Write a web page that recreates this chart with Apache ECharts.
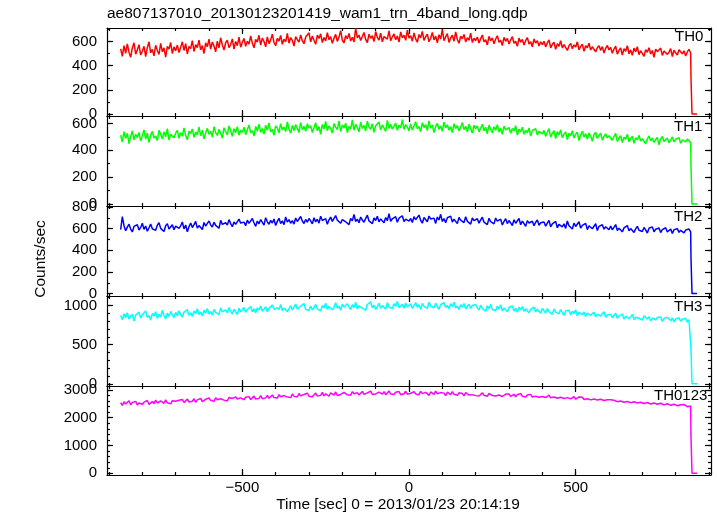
<!DOCTYPE html>
<html><head><meta charset="utf-8">
<script src="https://cdn.jsdelivr.net/npm/echarts@6/dist/echarts.min.js"></script>
<style>html,body{margin:0;padding:0;background:#fff}#c{width:717px;height:516px}</style>
</head><body><div id="c"></div>
<script>
const titleText = "ae807137010_20130123201419_wam1_trn_4band_long.qdp";
const xTitle = "Time [sec] 0 = 2013/01/23 20:14:19";
const yTitle = "Counts/sec";
const panelNames = ["TH0", "TH1", "TH2", "TH3", "TH0123"];

// time bins: first bin centre and bin width (sec)
const binStart = -865, binWidth = 5;

const th0 = [
540,478,566,503,581,512,469,547,590,495,531,574,488,520,561,476,549,598,507,535,482,569,526,493,585,515,548,471,560,537,592,501,556,523,
571,509,552,598,526,583,497,560,541,607,518,575,549,612,532,566,501,589,557,620,538,596,563,515,604,547,631,572,529,590,612,549,575,622,538,601,566,637,553,594,
625,561,603,579,646,588,548,617,596,652,571,629,600,556,638,583,614,661,592,565,627,604,650,577,619,598,668,586,633,610,562,641,615,595,655,607,582,637,621,672,
598,646,611,577,653,625,664,592,633,606,674,615,640,585,628,659,601,637,690,612,588,649,622,667,604,636,596,711,630,654,609,642,675,618,591,661,627,648,600,683,634,612,669,598,641,657,620,688,606,639,663,615,646,595,679,631,652,610,695,628,
648,603,671,622,594,658,631,684,609,640,662,598,627,676,614,645,589,656,621,701,607,638,665,593,630,652,603,680,617,586,644,623,659,597,632,611,670,592,628,606,
637,588,624,654,597,615,572,643,606,630,581,621,648,594,611,567,635,602,626,579,614,641,586,603,560,628,595,617,571,608,633,580,599,557,621,588,606,563,597,574,
602,556,589,613,548,577,594,535,583,561,607,547,574,590,526,566,585,541,572,554,598,532,560,579,519,565,548,586,530,557,573,514,549,566,527,558,505,544,568,531,
552,503,538,561,496,527,548,488,541,519,565,499,531,486,545,515,557,492,524,540,478,533,511,549,497,526,470,538,516,503,546,485,521,534,494,512,541,476,529,507,489,532,515,498,523,481,514,536,505
];
const th1 = [
512,461,538,487,526,449,503,545,478,519,495,533,468,508,552,483,527,459,514,541,490,506,472,548,521,485,537,499,561,476,518,532,493,527,
548,489,531,504,567,512,478,543,525,559,496,537,514,572,507,549,485,528,563,519,541,498,576,532,510,556,527,491,568,539,515,582,546,503,560,531,575,512,549,534,
571,516,552,589,529,546,505,578,541,595,533,562,520,587,548,603,537,556,512,581,566,529,598,551,574,539,612,558,527,585,547,591,563,532,606,554,579,541,598,566,
583,532,567,604,545,576,519,592,558,614,547,581,563,527,598,572,553,619,540,588,566,601,531,577,560,624,549,593,571,536,609,562,585,544,617,573,556,597,534,582,568,611,551,589,575,540,622,563,594,557,579,603,548,586,569,628,555,591,574,545,
596,551,583,612,560,577,538,605,569,591,547,618,565,588,532,574,600,556,581,542,609,567,590,549,576,531,598,561,584,544,572,606,553,579,538,595,562,527,586,559,
581,537,566,594,545,572,523,587,556,530,575,548,591,535,563,518,580,551,540,569,526,562,544,583,512,557,538,571,519,549,531,566,505,547,536,560,514,541,553,522,
548,503,534,561,497,526,545,487,539,515,552,494,520,537,479,528,509,546,491,518,535,472,513,541,498,524,483,529,506,466,517,534,488,510,527,475,503,522,492,508,
513,474,502,525,466,491,509,458,497,481,519,463,488,505,452,494,477,511,469,486,500,448,483,507,471,492,459,478,496,441,485,503,466,479,491,455,476,499,463,482,470,494,451,477,488,462,483,473,458
];
const th2 = [
592,712,628,581,615,642,597,570,621,606,637,588,612,650,594,625,577,609,643,600,618,585,633,655,603,619,574,628,647,598,613,636,590,624,
641,603,627,662,598,634,572,619,653,611,638,667,606,629,645,593,657,624,610,672,636,615,660,631,648,604,677,640,622,655,633,684,647,618,663,641,626,689,652,637,
661,628,679,650,637,694,655,622,671,646,685,659,633,702,664,641,677,652,690,629,668,696,647,673,638,708,661,684,650,675,643,699,667,654,713,671,648,686,660,694,
672,645,701,663,688,651,716,675,659,693,641,682,707,668,654,721,679,693,650,685,702,664,677,638,696,673,731,667,689,655,708,681,660,694,725,672,686,647,699,676,715,663,690,681,656,703,674,740,668,692,677,711,659,697,684,720,666,688,702,671,
695,658,712,683,669,726,677,651,704,688,664,717,690,672,698,649,708,681,733,667,693,655,701,684,716,662,689,673,647,705,679,694,657,710,668,686,643,699,675,661,
692,651,681,706,660,674,638,697,666,683,645,699,671,653,688,634,667,692,648,676,659,629,683,651,664,694,637,670,648,622,675,653,641,669,628,660,681,632,655,645,
662,624,651,677,618,644,632,668,609,640,655,617,646,603,671,628,639,598,652,621,636,664,605,631,617,649,592,627,641,600,615,646,583,622,608,637,596,618,629,590,
624,591,612,639,584,605,620,571,608,597,629,580,601,615,566,598,622,586,603,574,611,589,560,604,593,617,572,595,583,606,564,592,578,609,569,587,598,557,590,579,601,566,585,594,561,588,575,597,570
];
const th3 = [
872,818,894,843,907,826,861,889,801,876,852,915,838,881,864,929,847,873,812,898,866,921,835,887,855,938,871,829,903,858,924,880,846,911,
869,932,887,851,915,898,946,872,906,861,928,893,957,884,913,866,939,901,962,889,920,876,948,911,935,882,969,917,898,943,906,972,925,891,951,930,884,963,918,947,
975,912,948,931,986,920,957,902,969,941,993,926,955,983,917,962,939,1004,951,928,972,946,1011,935,966,987,921,958,996,943,977,1018,952,930,989,964,1025,948,971,938,
992,941,973,1012,956,981,929,998,967,1027,950,986,1006,944,975,1033,962,991,937,1015,979,958,1021,985,947,1009,972,1041,956,994,1018,966,983,939,1012,990,1047,969,1003,951,985,1028,964,997,1011,953,1036,978,1002,960,1022,987,1052,970,995,1014,963,1031,982,1006,
1019,964,998,1037,975,1010,949,1026,987,1004,961,1043,992,1015,970,1029,983,951,1012,996,1034,973,1001,957,1021,988,1040,966,993,945,1008,979,1025,954,990,1016,962,999,975,1011,
987,941,1003,962,979,926,995,958,1014,947,971,936,990,955,1007,932,966,981,919,974,950,993,928,962,912,977,943,986,924,957,968,907,949,934,979,916,952,937,901,960,
944,902,961,919,937,886,953,915,928,893,948,905,872,931,912,939,880,923,896,945,868,910,932,881,917,859,903,926,874,898,914,856,889,907,865,893,921,848,882,899,
887,843,874,901,836,866,852,889,825,862,878,831,857,884,819,849,871,837,858,812,866,843,826,855,801,839,862,817,845,829,851,796,834,812,847,823,808,839,789,828,815,842,797,823,809,835,786,818,804
];
const th0123 = [
2538,2441,2572,2490,2525,2609,2467,2548,2503,2586,2455,2531,2597,2486,2559,2512,2620,2474,2543,2580,2507,2634,2529,2488,2601,2556,2519,2645,2537,2573,2496,2612,2558,2590,
2534,2627,2581,2652,2548,2603,2669,2566,2619,2590,2683,2557,2641,2608,2695,2578,2633,2662,2596,2710,2624,2651,2589,2719,2643,2608,2681,2737,2632,2667,2604,2728,2659,2693,2625,2749,2671,2634,2712,2688,
2647,2735,2689,2758,2652,2714,2776,2671,2730,2695,2792,2683,2748,2713,2805,2697,2762,2819,2725,2771,2706,2831,2754,2729,2796,2843,2741,2788,2722,2852,2767,2806,2748,2871,2783,2759,2834,2795,2880,2771,
2836,2752,2818,2889,2776,2847,2803,2908,2785,2861,2829,2772,2897,2844,2815,2926,2798,2869,2837,2781,2912,2851,2823,2884,2806,2937,2859,2831,2902,2818,2877,2944,2842,2813,2891,2865,2958,2836,2899,2854,2808,2921,2873,2847,2935,2826,2886,2963,2851,2904,2838,2917,2869,2942,2827,2893,2862,2951,2845,2908,
2879,2813,2931,2856,2894,2827,2948,2865,2838,2912,2851,2804,2925,2872,2840,2957,2861,2819,2903,2846,2884,2796,2916,2858,2831,2937,2842,2873,2808,2895,2834,2869,2787,2906,2848,2815,2882,2829,2861,2794,
2857,2782,2838,2891,2806,2849,2771,2874,2823,2796,2862,2779,2835,2815,2881,2762,2826,2849,2788,2853,2767,2818,2842,2755,2831,2794,2866,2771,2805,2748,2820,2786,2839,2742,2802,2777,2826,2733,2791,2764,
2795,2726,2771,2811,2714,2758,2742,2793,2701,2767,2735,2784,2689,2749,2722,2776,2680,2731,2756,2664,2712,2747,2693,2735,2653,2718,2681,2729,2641,2702,2672,2716,2633,2688,2661,2705,2618,2674,2647,2690,
2643,2591,2628,2662,2576,2614,2599,2641,2558,2607,2584,2625,2541,2598,2571,2613,2529,2584,2553,2596,2512,2569,2547,2581,2494,2556,2528,2565,2483,2540,2518,2549,2461,2527,2502,2538,2445,2509,2486,2521,2432,2493,2468,2412,2479,2447,2395,2458,2421
];

// end of observation: partial bin then zero
const dropTimes = [846, 849, 864];
const dropTH0 = [300, 0, 0];
const dropTH1 = [280, 0, 0];
const dropTH2 = [330, 0, 0];
const dropTH3 = [430, 0, 0];
const dropTH0123 = [1320, 0, 0];

const xMajorTicks = [-500, 0, 500];
const xMinorTicks = [-900,-800,-700,-600,-500,-400,-300,-200,-100,0,100,200,300,400,500,600,700,800,900];
const yMajor = [[0,200,400,600],[0,200,400,600],[0,200,400,600,800],[0,500,1000],[0,1000,2000,3000]];
const yMinor = [
  [100,200,300,400,500,600,700],
  [100,200,300,400,500,600],
  [100,200,300,400,500,600,700,800],
  [100,200,300,400,500,600,700,800,900,1000,1100],
  [200,400,600,800,1000,1200,1400,1600,1800,2000,2200,2400,2600,2800,3000]
];
const yRange = [[-16,712],[-15,655],[-22,810],[-28,1120],[-60,3140]];
const xRange = [-906, 906];

const seriesData = [th0, th1, th2, th3, th0123];
const dropData = [dropTH0, dropTH1, dropTH2, dropTH3, dropTH0123];

// ---- styling / layout ----
const colors = ['#ff0000', '#00ff00', '#0000ff', '#00ffff', '#ff00ff'];
const gridTop = [28, 116, 206, 296, 386];
const gridH = [88, 90, 90, 90, 89];
const FONT = '"Liberation Sans", Arial, Helvetica, sans-serif';
const lineSt = {color: '#000', width: 1.2};
const fmt = v => v < 0 ? '\u2212' + (-v) : String(v);

const grids = [], xAxes = [], yAxes = [], series = [];
for (let i = 0; i < 5; i++) {
  grids.push({left: 107, right: 6, top: gridTop[i], height: gridH[i]});
  const mkX = (pos, ticks, len, line, labels) => ({
    type: 'value', gridIndex: i, position: pos, min: xRange[0], max: xRange[1],
    splitLine: {show: false},
    axisLine: {show: line, onZero: false, lineStyle: lineSt},
    axisTick: {show: true, inside: true, length: len, customValues: ticks, lineStyle: lineSt},
    axisLabel: {show: labels, customValues: ticks, margin: 5, formatter: fmt,
      fontFamily: FONT, fontSize: 15, color: '#000'}
  });
  xAxes.push(mkX('bottom', xMajorTicks, 6, true, i === 4));
  xAxes.push(mkX('bottom', xMinorTicks, 3, false, false));
  xAxes.push(mkX('top', xMajorTicks, 6, true, false));
  xAxes.push(mkX('top', xMinorTicks, 3, false, false));
  const mkY = (pos, ticks, len, line, labels) => ({
    type: 'value', gridIndex: i, position: pos, min: yRange[i][0], max: yRange[i][1],
    splitLine: {show: false},
    axisLine: {show: line, onZero: false, lineStyle: lineSt},
    axisTick: {show: true, inside: true, length: len, customValues: ticks, lineStyle: lineSt},
    axisLabel: {show: labels, customValues: ticks, margin: 10, formatter: fmt,
      fontFamily: FONT, fontSize: 15, color: '#000'}
  });
  yAxes.push(mkY('left', yMajor[i], 6, true, true));
  yAxes.push(mkY('left', yMinor[i], 3, false, false));
  yAxes.push(mkY('right', yMajor[i], 6, true, false));
  yAxes.push(mkY('right', yMinor[i], 3, false, false));

  const pts = seriesData[i].map((v, k) => [binStart + k * binWidth, v])
    .concat(dropTimes.map((t, k) => [t, dropData[i][k]]));
  series.push({
    type: 'line', xAxisIndex: 4 * i, yAxisIndex: 4 * i, data: pts,
    showSymbol: false, symbol: 'none', silent: true,
    lineStyle: {color: colors[i], width: 1.5}, itemStyle: {color: colors[i]}
  });
}

const labelPos = [[675, 29], [674, 119], [674, 209], [674, 299], [654, 388]];
const graphics = [
  {type: 'text', left: 107, top: 6, style: {text: titleText, font: '15.5px ' + FONT, fill: '#000'}},
  {type: 'text', x: 398, y: 497, style: {text: xTitle, font: '15.5px ' + FONT, fill: '#000', textAlign: 'center', textVerticalAlign: 'top'}},
  {type: 'text', x: 33, y: 259, rotation: Math.PI / 2, style: {text: yTitle, font: '15.5px ' + FONT, fill: '#000', textAlign: 'center', textVerticalAlign: 'top'}}
];
panelNames.forEach((n, i) => graphics.push({type: 'text', x: labelPos[i][0], y: labelPos[i][1],
  style: {text: n, font: '15px ' + FONT, fill: '#000', textAlign: 'left', textVerticalAlign: 'top'}}));

const chart = echarts.init(document.getElementById('c'), null, {renderer: 'canvas'});
chart.setOption({
  animation: false,
  backgroundColor: '#fff',
  grid: grids, xAxis: xAxes, yAxis: yAxes, series: series,
  graphic: graphics
});
</script></body></html>
